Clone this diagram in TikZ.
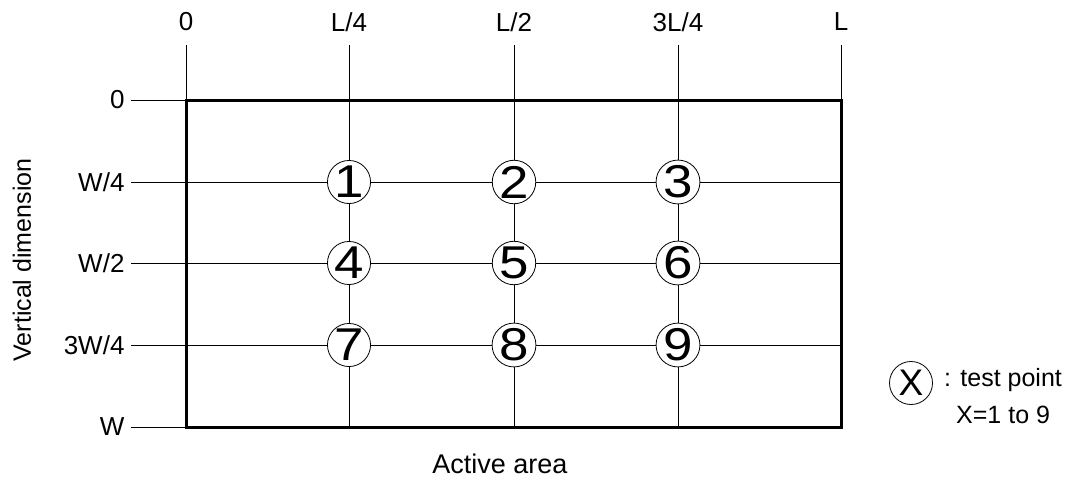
\documentclass[tikz,border=0pt]{standalone}
\usepackage{fontspec}
\setmainfont{Liberation Sans}
\usetikzlibrary{
    positioning,
    calc
}

\begin{document}
\begin{tikzpicture}[x=1pt, y=-1pt,
    tp/.style={draw, circle, fill=white, inner sep=0pt, minimum size=43pt,
        line width=0.8pt, font=\fontsize{46}{46}\selectfont},
    lbl/.style={font=\fontsize{26}{26}\selectfont},
    grid/.style={line width=0.8pt}]
    \useasboundingbox (0,0) rectangle (1085,482);

    % grid coordinates
    \foreach \i/\x in {0/186, 1/349, 2/514, 3/678, 4/841} {
        \coordinate (top\i) at (\x,45);
        \coordinate (bot\i) at (\x,427);
    }
    \foreach \j/\y in {0/100, 1/182, 2/263, 3/345, 4/427} {
        \coordinate (lft\j) at (131,\y);
        \coordinate (rgt\j) at (841,\y);
    }

    % labels
    \node[lbl] (h0) at (186,22) {0};
    \node[lbl] (h1) at (349,22) {L/4};
    \node[lbl] (h2) at (514,22) {L/2};
    \node[lbl] (h3) at (678,22) {3L/4};
    \node[lbl] (h4) at (841,22) {L};
    \node[lbl, left=3pt of lft0] (v0) {0};
    \node[lbl, left=3pt of lft1] (v1) {W/4};
    \node[lbl, left=3pt of lft2] (v2) {W/2};
    \node[lbl, left=3pt of lft3] (v3) {3W/4};
    \node[lbl, left=3pt of lft4] (v4) {W};
    \node[lbl, rotate=90, font=\fontsize{25}{25}\selectfont] (vd) at (22,260) {Vertical dimension};
    \node[lbl, font=\fontsize{27}{27}\selectfont] (aa) at (500,464) {Active area};

    % grid lines
    \draw[grid]
    (top0) -- (top0 |- lft0)
    (top4) -- (top4 |- lft0)
    (top1) -- (bot1)
    (top2) -- (bot2)
    (top3) -- (bot3);
    \foreach \j in {0,...,4}
        \draw[grid] (lft\j) -- (rgt\j);
    \draw[line width=3pt] (top0 |- lft0) rectangle (rgt4);

    % test points
    \foreach \n in {1,...,9} {
        \pgfmathtruncatemacro{\c}{mod(\n-1,3)+1}
        \pgfmathtruncatemacro{\r}{int((\n-1)/3)+1}
        \node[tp] (p\n) at (top\c |- lft\r) {\scalebox{1.15}[1]{\n}};
    }

    % legend
    \node[tp, font=\fontsize{37}{37}\selectfont] (key) at (911,383) {X};
    \node[lbl, anchor=west, inner sep=0pt, font=\fontsize{25}{25}\selectfont] (keytxt) at (944,380) {: test point};
    \node[lbl, anchor=west, inner sep=0pt, font=\fontsize{25}{25}\selectfont] (keyrng) at (956,415) {X=1 to 9};
\end{tikzpicture}
\end{document}
